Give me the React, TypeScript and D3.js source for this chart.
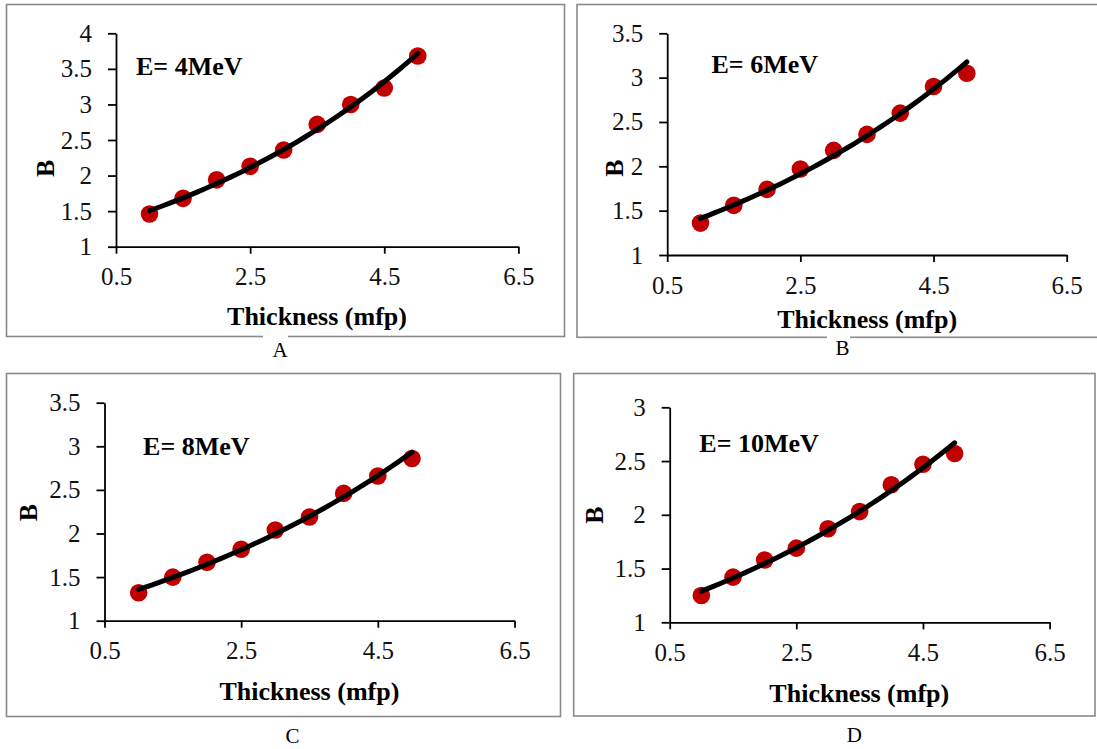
import React, { useEffect, useRef } from 'react';
import * as d3 from 'd3';

// Thickness values (mfp), shared by all four panels
const thickness = [1, 1.5, 2, 2.5, 3, 3.5, 4, 4.5, 5];

// Buildup factor B
const b4MeV = [1.46, 1.68, 1.94, 2.13, 2.36, 2.72, 3.0, 3.23, 3.68];
const b6MeV = [1.36, 1.56, 1.74, 1.97, 2.18, 2.36, 2.6, 2.9, 3.05];
const b8MeV = [1.32, 1.5, 1.67, 1.82, 2.04, 2.19, 2.46, 2.66, 2.86];
const b10MeV = [1.25, 1.42, 1.58, 1.69, 1.87, 2.03, 2.28, 2.47, 2.57];

const energyLabels = ['E= 4MeV', 'E= 6MeV', 'E= 8MeV', 'E= 10MeV'];
const panelLetters = ['A', 'B', 'C', 'D'];

const xTicks = [0.5, 2.5, 4.5, 6.5];
const yTicks4 = [1, 1.5, 2, 2.5, 3, 3.5, 4];
const yTicks35 = [1, 1.5, 2, 2.5, 3, 3.5];
const yTicks3 = [1, 1.5, 2, 2.5, 3];

const seriesList = [b4MeV, b6MeV, b8MeV, b10MeV];
const yTickList = [yTicks4, yTicks35, yTicks35, yTicks3];

// where each panel sits on the page
const layouts = [
  { box: [6.5, 4.5, 558, 332], plot: [116, 518.4, 33.3, 246.7], energy: [136, 75], yTitle: [45.6, 168.3], xTitle: [317, 325], letter: [280, 356.7], gap: [263, 288] },
  { box: [577, 4.5, 540, 332.8], plot: [667.2, 1066.7, 33.3, 255], energy: [711.5, 73.3], yTitle: [614.5, 168], xTitle: [867.2, 328.3], letter: [842.4, 355], gap: [827, 850] },
  { box: [6.5, 373.5, 554, 343], plot: [104.5, 514.5, 402.7, 620.7], energy: [143.1, 455], yTitle: [28, 512.7], xTitle: [309.4, 700], letter: [292.5, 743], gap: null },
  { box: [573.7, 373.5, 521.3, 342.5], plot: [669.7, 1049.6, 407.3, 622.3], energy: [699.3, 451.7], yTitle: [594.7, 515], xTitle: [859.3, 701.7], letter: [854.3, 741.7], gap: null },
];

const FONT = 'Liberation Serif, Times New Roman, serif';

// Excel-style exponential trendline: least squares on ln(y)
function expFit(xs, ys) {
  const ly = ys.map(v => Math.log(v));
  const mx = d3.mean(xs);
  const my = d3.mean(ly);
  let num = 0, den = 0;
  xs.forEach((x, i) => { num += (x - mx) * (ly[i] - my); den += (x - mx) ** 2; });
  const b = num / den;
  const a = Math.exp(my - b * mx);
  return x => a * Math.exp(b * x);
}

const App = () => {
  const svgRef = useRef();

  useEffect(() => {
    const svg = d3.select(svgRef.current);
    svg.selectAll('*').remove();

    layouts.forEach((lay, idx) => {
      const ys = seriesList[idx];
      const yTicks = yTickList[idx];
      const [left, right, top, bottom] = lay.plot;

      const g = svg.append('g');

      // panel frame
      g.append('rect')
        .attr('x', lay.box[0]).attr('y', lay.box[1])
        .attr('width', lay.box[2]).attr('height', lay.box[3])
        .attr('fill', 'white').attr('stroke', '#8a8a8a').attr('stroke-width', 1.6);

      const xScale = d3.scaleLinear().domain([0.5, 6.5]).range([left, right]);
      const yScale = d3.scaleLinear().domain([yTicks[0], yTicks[yTicks.length - 1]]).range([bottom, top]);

      // y axis
      const yAxis = g.append('g')
        .attr('transform', `translate(${left},0)`)
        .call(d3.axisLeft(yScale).tickValues(yTicks).tickFormat(d3.format('')).tickSize(8).tickSizeOuter(0).tickPadding(16));

      // x axis
      const xAxis = g.append('g')
        .attr('transform', `translate(0,${bottom})`)
        .call(d3.axisBottom(xScale).tickValues(xTicks).tickFormat(d3.format('.1f')).tickSize(7).tickSizeOuter(0).tickPadding(14));

      [yAxis, xAxis].forEach(ax => {
        ax.attr('font-family', FONT).attr('font-size', 25);
        ax.select('.domain').attr('stroke', 'black').attr('stroke-width', 1.8);
        ax.selectAll('.tick line').attr('stroke', 'black').attr('stroke-width', 1.8);
        ax.selectAll('.tick text').attr('fill', '#111');
      });

      // markers
      g.selectAll('circle.pt')
        .data(thickness)
        .enter()
        .append('circle')
        .attr('class', 'pt')
        .attr('cx', d => xScale(d))
        .attr('cy', (d, i) => yScale(ys[i]))
        .attr('r', 8.8)
        .attr('fill', '#c00000');

      // trendline
      const fit = expFit(thickness, ys);
      const xs = d3.range(0, 41).map(k => thickness[0] + (k * (thickness[thickness.length - 1] - thickness[0])) / 40);
      const line = d3.line().x(d => xScale(d)).y(d => yScale(fit(d)));
      g.append('path')
        .attr('d', line(xs))
        .attr('fill', 'none')
        .attr('stroke', 'black')
        .attr('stroke-width', 5)
        .attr('stroke-linecap', 'round');

      // energy label
      g.append('text')
        .attr('x', lay.energy[0]).attr('y', lay.energy[1])
        .attr('font-family', FONT).attr('font-size', 26).attr('font-weight', 'bold')
        .text(energyLabels[idx]);

      // axis titles
      g.append('text')
        .attr('transform', `translate(${lay.yTitle[0]},${lay.yTitle[1]}) rotate(-90)`)
        .attr('text-anchor', 'middle')
        .attr('dominant-baseline', 'central')
        .attr('font-family', FONT).attr('font-size', 26).attr('font-weight', 'bold')
        .text('B');

      g.append('text')
        .attr('x', lay.xTitle[0]).attr('y', lay.xTitle[1])
        .attr('text-anchor', 'middle')
        .attr('font-family', FONT).attr('font-size', 26).attr('font-weight', 'bold')
        .text('Thickness (mfp)');

      // caption letter under the panel
      if (lay.gap) {
        svg.append('rect')
          .attr('x', lay.gap[0]).attr('y', lay.box[1] + lay.box[3] - 3)
          .attr('width', lay.gap[1] - lay.gap[0]).attr('height', 6)
          .attr('fill', 'white');
      }
      svg.append('text')
        .attr('x', lay.letter[0]).attr('y', lay.letter[1])
        .attr('text-anchor', 'middle')
        .attr('font-family', FONT).attr('font-size', 21)
        .text(panelLetters[idx]);
    });
  }, []);

  return (
    <svg ref={svgRef} width={1097} height={749} style={{ position: 'absolute', left: 0, top: 0, background: 'white' }}></svg>
  );
};

export default App;
